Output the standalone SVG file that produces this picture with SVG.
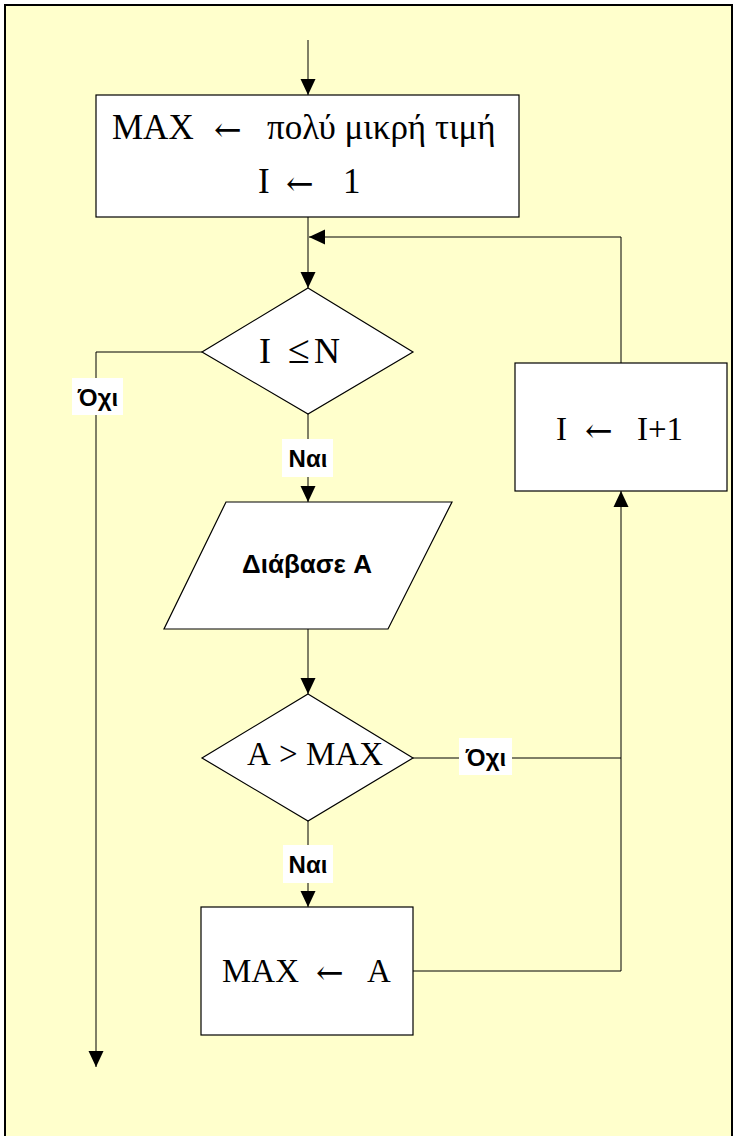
<svg xmlns="http://www.w3.org/2000/svg" width="735" height="1136" viewBox="0 0 735 1136">
<defs>
<marker id="ah" markerUnits="userSpaceOnUse" markerWidth="16" markerHeight="16" viewBox="0 0 16 16" refX="16" refY="8" orient="auto">
<path d="M0,0.5 L16,8 L0,15.5 Z" fill="#000"/>
</marker>
</defs>
<style>
.bg{fill:#FFFFCC;stroke:#000;stroke-width:2}
.shape{fill:#fff;stroke:#000;stroke-width:1.2}
.con{fill:none;stroke:#000;stroke-width:1}
.arr{marker-end:url(#ah)}
.tx{font-family:"Liberation Serif","Times New Roman",serif;font-size:33px;fill:#000}
.ar{font-family:"DejaVu Serif","DejaVu Sans",serif;font-size:33px}
.lbl{font-family:"Liberation Sans",Arial,sans-serif;font-weight:bold;font-size:24px;fill:#000;text-anchor:middle}
.lblbg{fill:#fff;stroke:none}
</style>
<rect class="bg" x="5" y="5" width="727" height="1132"/>
<g id="connectors">
<path class="con arr" d="M308,40 V95"/>
<path class="con arr" d="M308,217 V288"/>
<path class="con arr" d="M621,363 V237 H309"/>
<path class="con arr" d="M202,352 H96 V1067"/>
<path class="con arr" d="M308,414 V502"/>
<path class="con arr" d="M308,629 V694"/>
<path class="con arr" d="M413,758 H621 V491"/>
<path class="con arr" d="M308,821 V907"/>
<path class="con" d="M413,971 H621 V758"/>
</g>
<g id="init">
<rect class="shape" x="96" y="95" width="423" height="122"/>
<text class="tx" y="139" style="font-size:35px"><tspan x="112">MAX</tspan><tspan class="ar" x="214" y="141">←</tspan><tspan x="267" y="139">πολύ μικρή τιμή</tspan></text>
<text class="tx" y="193" style="font-size:35px"><tspan x="258">I</tspan><tspan class="ar" x="286" y="195">←</tspan><tspan x="343" y="193">1</tspan></text>
</g>
<g id="cond1">
<polygon class="shape" points="308,288 413,352 308,414 202,352"/>
<text class="tx" y="363" style="font-size:36px"><tspan x="259">I</tspan><tspan x="288" style="font-size:40px">≤</tspan><tspan x="314">N</tspan></text>
</g>
<g id="read">
<polygon class="shape" points="226,502 452,502 388,629 164,629"/>
<text class="lbl" x="307" y="573" style="font-size:26px">Διάβασε A</text>
</g>
<g id="cond2">
<polygon class="shape" points="308,694 413,758 308,821 202,758"/>
<text class="tx" y="765"><tspan x="247">A</tspan><tspan x="279">&gt;</tspan><tspan x="306">MAX</tspan></text>
</g>
<g id="assign">
<rect class="shape" x="201" y="907" width="212" height="128"/>
<text class="tx" y="982"><tspan x="222">MAX</tspan><tspan class="ar" x="316" y="984">←</tspan><tspan x="367" y="982">A</tspan></text>
</g>
<g id="incr">
<rect class="shape" x="515" y="363" width="212" height="128"/>
<text class="tx" y="440"><tspan x="556">I</tspan><tspan class="ar" x="585" y="442">←</tspan><tspan x="637" y="440">I+1</tspan></text>
</g>
<g id="labels">
<rect class="lblbg" x="72" y="378" width="51" height="37"/>
<text class="lbl" x="98" y="406">Όχι</text>
<rect class="lblbg" x="282" y="439" width="51" height="38"/>
<text class="lbl" x="308" y="467">Ναι</text>
<rect class="lblbg" x="459" y="738" width="53" height="37"/>
<text class="lbl" x="486" y="766">Όχι</text>
<rect class="lblbg" x="283" y="845" width="50" height="38"/>
<text class="lbl" x="308" y="873">Ναι</text>
</g>
</svg>
